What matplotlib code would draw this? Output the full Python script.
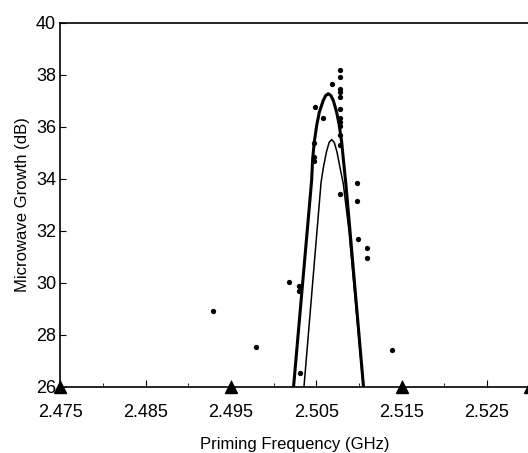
import matplotlib
matplotlib.use("Agg")
import matplotlib.pyplot as plt
from matplotlib.ticker import MultipleLocator, FixedLocator

# measured points (GHz, dB)
freq = [2.4929, 2.4979, 2.5018, 2.5030, 2.5030, 2.5031,
        2.5047, 2.5047, 2.5047, 2.5048, 2.5058, 2.5068,
        2.5078, 2.5078, 2.5078, 2.5078, 2.5078, 2.5078,
        2.5078, 2.5078, 2.5078, 2.5078, 2.5078, 2.5078,
        2.5098, 2.5098, 2.5099, 2.5109, 2.5109, 2.5139]
growth = [28.92, 27.52, 30.05, 29.90, 29.69, 26.53,
          34.67, 34.83, 35.39, 36.75, 36.35, 37.63,
          38.20, 37.90, 37.46, 37.32, 37.16, 36.69,
          36.35, 36.18, 36.02, 35.69, 35.31, 33.40,
          33.84, 33.15, 31.68, 31.34, 30.96, 27.43]

# theory curves
thick_f = [2.50233, 2.50445, 2.50457, 2.50476, 2.50504, 2.50535, 2.50581,
           2.50610, 2.50640, 2.50670, 2.50699, 2.50738, 2.50769, 2.50797,
           2.50816, 2.50844, 2.50894, 2.51053]
thick_g = [26.0, 33.94, 34.77, 35.41, 36.05, 36.56, 37.01,
           37.20, 37.27, 37.20, 37.01, 36.56, 36.05, 35.41,
           34.77, 33.87, 32.02, 26.0]
thin_f = [2.50355, 2.50555, 2.50580, 2.50618, 2.50650, 2.50680, 2.50710,
          2.50742, 2.50780, 2.50816, 2.50882, 2.51050]
thin_g = [26.0, 33.85, 34.39, 35.03, 35.40, 35.51, 35.40,
          35.03, 34.39, 33.81, 32.02, 26.0]

marks = [2.475, 2.495, 2.515, 2.530]
xticks = [2.475, 2.485, 2.495, 2.505, 2.515, 2.525]
yticks = [26, 28, 30, 32, 34, 36, 38, 40]

plt.rcParams['font.family'] = ['Liberation Sans', 'DejaVu Sans']

fig = plt.figure(figsize=(5.28, 4.53), dpi=100)
ax = fig.add_axes([0.1142, 0.1457, 0.889, 0.8042])

ax.plot(thick_f, thick_g, '-', color='k', lw=2.2, solid_capstyle='butt')
ax.plot(thin_f, thin_g, '-', color='k', lw=1.1)
ax.plot(freq, growth, 'o', color='k', ms=3.8, mec='none')
ax.plot(marks, [26] * len(marks), '^', color='k', ms=8, clip_on=False, zorder=5)

ax.set_xlim(2.475, 2.530)
ax.set_ylim(26, 40)
ax.xaxis.set_major_locator(FixedLocator(xticks))
ax.xaxis.set_minor_locator(MultipleLocator(0.005))
ax.yaxis.set_major_locator(FixedLocator(yticks))
ax.set_xticklabels(["{:.3f}".format(t) for t in xticks])

ax.tick_params(axis='both', which='both', direction='in', labelsize=13,
               top=False, right=False, color='k')
ax.tick_params(axis='x', which='major', length=5, pad=12)
ax.tick_params(axis='x', which='minor', length=3)
ax.tick_params(axis='y', which='major', length=4, pad=3)

for s in ['left', 'bottom', 'top']:
    ax.spines[s].set_linewidth(1.2)
ax.spines['right'].set_visible(False)

ax.set_xlabel("Priming Frequency (GHz)", fontsize=12, labelpad=12)
ax.set_ylabel("Microwave Growth (dB)", fontsize=12, labelpad=4)

fig.savefig("out.png", dpi=100)
